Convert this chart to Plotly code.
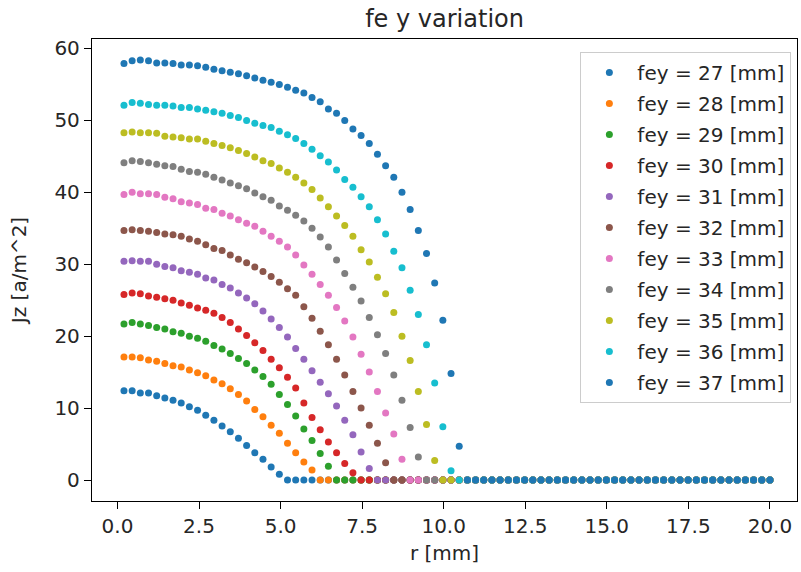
import numpy as np
import plotly.graph_objects as go

# radial grid (80 evenly spaced samples from 0.2 to 20 mm)
r_mm = np.linspace(0.2, 20.0, 80)

fey_labels = ["fey = 27 [mm]", "fey = 28 [mm]", "fey = 29 [mm]", "fey = 30 [mm]",
              "fey = 31 [mm]", "fey = 32 [mm]", "fey = 33 [mm]", "fey = 34 [mm]",
              "fey = 35 [mm]", "fey = 36 [mm]", "fey = 37 [mm]"]

# non-zero parts of each curve (the rest of each series is 0)
jz_27 = [12.4, 12.4, 12.1, 12.1, 11.7, 11.4, 11.1, 10.7, 10.2, 9.7, 9.0, 8.3, 7.5, 6.7,
         5.8, 4.8, 3.8, 2.9, 1.8, 0.8]
jz_28 = [17.1, 17.1, 17.0, 16.7, 16.5, 16.2, 15.9, 15.7, 15.3, 14.9, 14.5, 13.9, 13.4,
         12.7, 11.9, 11.0, 9.8, 8.8, 7.6, 6.5, 5.1, 3.8, 2.5, 1.4]
jz_29 = [21.7, 21.9, 21.7, 21.5, 21.2, 21.0, 20.6, 20.4, 20.0, 19.7, 19.3, 18.7, 18.2,
         17.6, 16.9, 16.2, 15.3, 14.4, 13.3, 11.9, 10.5, 8.9, 7.1, 5.5, 3.7, 1.9]
jz_30 = [25.8, 26.0, 25.9, 25.6, 25.4, 25.2, 25.0, 24.6, 24.3, 23.9, 23.6, 23.2, 22.6,
         21.9, 21.0, 20.1, 19.1, 18.0, 16.8, 15.6, 14.3, 12.8, 10.7, 8.7, 7.0, 5.3, 3.8,
         2.3, 1.0]
jz_31 = [30.4, 30.5, 30.4, 30.4, 30.0, 29.7, 29.5, 29.1, 28.9, 28.6, 28.1, 27.8, 27.2,
         26.7, 26.0, 25.3, 24.5, 23.5, 22.4, 21.2, 19.9, 18.3, 16.8, 15.2, 13.6, 12.0,
         10.3, 8.3, 6.3, 3.9, 1.6]
jz_32 = [34.7, 34.8, 34.7, 34.6, 34.4, 34.2, 34.1, 33.9, 33.5, 33.2, 32.7, 32.2, 31.9,
         31.3, 30.7, 30.2, 29.6, 29.0, 28.3, 27.5, 26.6, 25.7, 24.1, 22.5, 20.7, 18.8,
         16.8, 14.6, 12.3, 10.0, 7.6, 5.1, 2.4]
jz_33 = [39.7, 40.0, 39.8, 39.8, 39.7, 39.3, 39.1, 38.7, 38.5, 38.3, 37.8, 37.6, 37.1,
         36.7, 36.2, 35.7, 35.3, 34.6, 33.9, 33.2, 32.4, 31.3, 29.9, 28.6, 27.2, 25.7,
         24.0, 22.1, 19.9, 17.5, 15.0, 12.3, 9.3, 6.4, 2.9]
jz_34 = [44.1, 44.4, 44.3, 44.1, 43.9, 43.7, 43.6, 43.2, 42.9, 42.8, 42.5, 42.1, 41.7,
         41.3, 40.9, 40.5, 39.9, 39.4, 38.9, 38.1, 37.5, 36.8, 36.0, 35.0, 33.8, 32.4,
         30.6, 28.7, 26.8, 24.9, 22.6, 20.2, 17.6, 14.6, 11.1, 7.3, 3.2]
jz_35 = [48.3, 48.4, 48.3, 48.3, 48.2, 47.8, 47.7, 47.6, 47.4, 47.4, 47.1, 46.8, 46.5,
         46.2, 45.8, 45.4, 44.9, 44.4, 44.0, 43.4, 42.8, 42.1, 41.3, 40.4, 39.2, 38.0,
         36.7, 35.4, 33.9, 32.0, 30.3, 28.2, 25.9, 23.3, 20.0, 16.6, 12.3, 7.7, 2.7]
jz_36 = [52.1, 52.5, 52.4, 52.2, 52.1, 52.1, 52.0, 51.8, 51.8, 51.6, 51.4, 51.2, 51.0,
         50.7, 50.4, 50.0, 49.6, 49.3, 49.0, 48.5, 48.0, 47.5, 46.8, 46.0, 45.1, 44.2,
         43.1, 41.8, 40.7, 39.4, 38.0, 36.2, 34.2, 31.8, 29.5, 26.4, 23.0, 18.8, 13.5,
         7.4, 1.3]
jz_37 = [57.9, 58.3, 58.4, 58.3, 58.0, 58.0, 57.9, 57.7, 57.7, 57.6, 57.4, 57.1, 56.9,
         56.7, 56.5, 56.2, 55.9, 55.6, 55.3, 55.0, 54.6, 54.2, 53.8, 53.2, 52.6, 51.6,
         51.0, 50.0, 48.8, 47.9, 46.8, 45.3, 43.7, 42.1, 40.0, 37.6, 34.7, 31.5, 27.4,
         22.2, 14.8, 4.7]

series = [jz_27, jz_28, jz_29, jz_30, jz_31, jz_32, jz_33, jz_34, jz_35, jz_36, jz_37]
colors = ["#1f77b4", "#ff7f0e", "#2ca02c", "#d62728", "#9467bd", "#8c564b",
          "#e377c2", "#7f7f7f", "#bcbd22", "#17becf", "#1f77b4"]

x_ticks = [0, 2.5, 5, 7.5, 10, 12.5, 15, 17.5, 20]
x_tick_text = ["0.0", "2.5", "5.0", "7.5", "10.0", "12.5", "15.0", "17.5", "20.0"]
y_ticks = [0, 10, 20, 30, 40, 50, 60]

N = len(r_mm)
fig = go.Figure()
for i, (vals, name, col) in enumerate(zip(series, fey_labels, colors)):
    y = list(vals) + [0.0] * (N - len(vals))
    fig.add_trace(go.Scatter(
        x=r_mm, y=y, mode="markers", name=name,
        marker=dict(color=col, size=7, line=dict(width=0)),
        legendgroup=str(i),
    ))

font_family = "DejaVu Sans"
txt = "#262626"
fig.update_layout(
    width=801, height=572,
    margin=dict(l=92, r=4, t=39, b=71),
    paper_bgcolor="white", plot_bgcolor="white",
    font=dict(family=font_family, size=20, color=txt),
    title=dict(text="fe y variation", x=0.555, xanchor="center",
               y=1 - 19 / 572, yanchor="middle", yref="container",
               font=dict(size=24, color=txt)),
    showlegend=True,
    legend=dict(x=0.992, xanchor="right", y=0.972, yanchor="top",
                bgcolor="white", bordercolor="#cccccc", borderwidth=1,
                font=dict(size=20, color=txt), traceorder="grouped",
                tracegroupgap=2, itemsizing="trace", itemwidth=46),
)
axis_common = dict(showline=True, linecolor="black", linewidth=1.3, mirror=True,
                   ticks="outside", ticklen=7, tickwidth=1.3, tickcolor="black",
                   showgrid=False, zeroline=False,
                   tickfont=dict(size=20, color=txt))
fig.update_xaxes(range=[-0.78, 20.83], tickvals=x_ticks, ticktext=x_tick_text,
                 title=dict(text="r [mm]", standoff=8, font=dict(size=20, color=txt)),
                 **axis_common)
fig.update_yaxes(range=[-2.92, 61.32], tickvals=y_ticks,
                 title=dict(text="Jz [a/m^2]", standoff=22, font=dict(size=20, color=txt)),
                 **axis_common)

fig.write_html("out.html")
